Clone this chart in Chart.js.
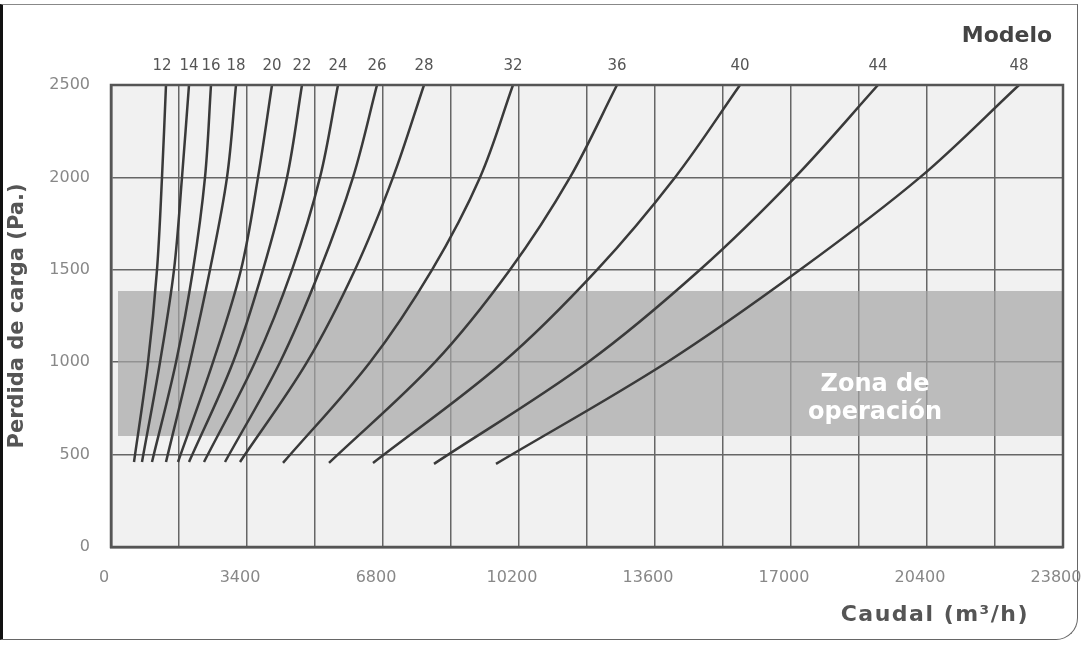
<!DOCTYPE html>
<html>
<head>
<meta charset="utf-8">
<script src="https://cdn.jsdelivr.net/npm/chart.js@4.4.1/dist/chart.umd.min.js"></script>
<style>
    html, body { margin: 0; padding: 0; background: #ffffff; }
    .frame {
        position: absolute; left: 0; top: 4px; width: 1078px; height: 636px;
        border-left: 3px solid #111; border-top: 1px solid #888;
        border-bottom: 1.5px solid #666; border-right: 1.5px solid #666;
        border-bottom-right-radius: 22px; box-sizing: border-box;
    }
    .chart-container { position: absolute; left: 0; top: 0; width: 1082px; height: 647px; }
</style>
</head>
<body>
<div class="frame"></div>
<div class="chart-container"><canvas id="perdidaChart"></canvas></div>
<script>
// Modelos (labels at the top of each curve)
const modelos = ['12', '14', '16', '18', '20', '22', '24', '26', '28', '32', '36', '40', '44', '48'];

// Pressure of the first point of each curve (Pa), then shared points
const presionInicio = [460, 460, 460, 460, 460, 460, 460, 460, 460, 455, 455, 455, 450, 450];
const presionPuntos = [1000, 1500, 2000, 2500];

// Caudal (m3/h) read at presionInicio, 1000, 1500, 2000, 2500 Pa
const caudales = [
    [575, 925, 1150, 1275, 1375],       // 12
    [775, 1225, 1575, 1775, 1950],      // 14
    [1025, 1625, 2050, 2350, 2500],     // 16
    [1375, 1975, 2475, 2900, 3125],     // 18
    [1675, 2550, 3250, 3675, 4025],     // 20
    [1950, 3050, 3800, 4400, 4775],     // 22
    [2325, 3600, 4525, 5225, 5675],     // 24
    [2850, 4225, 5225, 6050, 6650],     // 26
    [3225, 4900, 6100, 7050, 7825],     // 28
    [4300, 6475, 8025, 9225, 10050],    // 32
    [5450, 8100, 9975, 11475, 12650],   // 36
    [6550, 9800, 12150, 14100, 15725],  // 40
    [8075, 11925, 14725, 17100, 19175], // 44
    [9625, 13900, 17225, 20225, 22700]  // 48
];

// Zona de operación
const zonaCaudal = [175, 23800];
const zonaSuperior = 1385;
const zonaInferior = 600;

// Axes
const caudalMax = 23800;
const caudalPaso = 1700;
const caudalEtiquetaPaso = 3400;
const presionMax = 2500;
const presionPaso = 500;

const fuente = "'DejaVu Sans', Verdana, sans-serif";

const curvas = modelos.map((m, i) => {
    const pres = [presionInicio[i]].concat(presionPuntos);
    return {
        label: m,
        data: caudales[i].map((q, j) => ({ x: q, y: pres[j] })),
        borderColor: '#3a3a3a',
        borderWidth: 2.5,
        pointRadius: 0,
        fill: false,
        tension: 0.35
    };
});

const zona = [
    {
        label: 'zonaSup',
        data: zonaCaudal.map(q => ({ x: q, y: zonaSuperior })),
        borderWidth: 0,
        pointRadius: 0,
        backgroundColor: 'rgba(165,165,165,0.7)',
        fill: '+1'
    },
    {
        label: 'zonaInf',
        data: zonaCaudal.map(q => ({ x: q, y: zonaInferior })),
        borderWidth: 0,
        pointRadius: 0,
        fill: false
    }
];

const extras = {
    id: 'extras',
    beforeDraw(chart) {
        const { ctx, chartArea: a } = chart;
        ctx.save();
        ctx.fillStyle = '#f1f1f1';
        ctx.fillRect(a.left, a.top, a.right - a.left, a.bottom - a.top);
        ctx.restore();
    },
    afterDatasetsDraw(chart) {
        const { ctx, chartArea: a, scales } = chart;
        ctx.save();
        // frame of the plot
        ctx.strokeStyle = '#555';
        ctx.lineWidth = 2.5;
        ctx.strokeRect(a.left, a.top, a.right - a.left, a.bottom - a.top);

        // model labels above the end of each curve
        ctx.fillStyle = '#555';
        ctx.font = '15px ' + fuente;
        ctx.textAlign = 'center';
        ctx.textBaseline = 'middle';
        modelos.forEach((m, i) => {
            const pts = chart.getDatasetMeta(i).data;
            const last = pts[pts.length - 1];
            ctx.fillText(m, last.x - (i === 0 ? 4 : 0), a.top - 19);
        });

        // Modelo
        ctx.fillStyle = '#444';
        ctx.font = 'bold 22px ' + fuente;
        ctx.fillText('Modelo', a.right - 56, a.top - 49);

        // Caudal title
        ctx.fillStyle = '#555';
        ctx.font = 'bold 22px ' + fuente;
        ctx.letterSpacing = '1.5px';
        ctx.textAlign = 'right';
        ctx.fillText('Caudal (m³/h)', a.right - 34, a.bottom + 68);

        // Zona de operación
        const zx = scales.x.getPixelForValue(19100);
        const zy = scales.y.getPixelForValue(800);
        ctx.fillStyle = '#ffffff';
        ctx.font = 'bold 24px ' + fuente;
        ctx.letterSpacing = '0px';
        ctx.textAlign = 'center';
        ctx.fillText('Zona de', zx, zy - 14);
        ctx.fillText('operación', zx, zy + 14);
        ctx.restore();
    }
};

const ctx = document.getElementById('perdidaChart').getContext('2d');
new Chart(ctx, {
    type: 'line',
    data: { datasets: curvas.concat(zona) },
    options: {
        responsive: true,
        maintainAspectRatio: false,
        animation: false,
        layout: { padding: { left: 0, top: 85, right: 19, bottom: 0 } },
        plugins: {
            legend: { display: false },
            tooltip: { enabled: false }
        },
        scales: {
            x: {
                type: 'linear',
                min: 0,
                max: caudalMax,
                ticks: {
                    stepSize: caudalPaso,
                    autoSkip: false,
                    maxRotation: 0,
                    callback: v => (v % caudalEtiquetaPaso === 0 ? String(v) : ''),
                    color: '#888',
                    font: { size: 16, family: fuente },
                    padding: 21,
                    labelOffset: -7
                },
                grid: { color: '#666', lineWidth: 1.5, drawTicks: false },
                border: { color: '#555', width: 2.5 },
                afterFit(s) {
                    s.height = 100;
                    s.paddingLeft = 0;
                    s.paddingRight = 0;
                }
            },
            y: {
                min: 0,
                max: presionMax,
                ticks: {
                    stepSize: presionPaso,
                    callback: v => String(v),
                    color: '#888',
                    font: { size: 16, family: fuente },
                    padding: 21
                },
                grid: { color: '#666', lineWidth: 1.5, drawTicks: false },
                border: { color: '#555', width: 2.5 },
                title: {
                    display: true,
                    text: 'Perdida de carga (Pa.)',
                    color: '#555',
                    font: { size: 21, weight: 'bold', family: fuente },
                    padding: { top: 5, bottom: 0 }
                },
                afterFit(s) {
                    s.width = 111;
                    s.paddingTop = 0;
                    s.paddingBottom = 0;
                }
            }
        }
    },
    plugins: [extras]
});
</script>
</body>
</html>
